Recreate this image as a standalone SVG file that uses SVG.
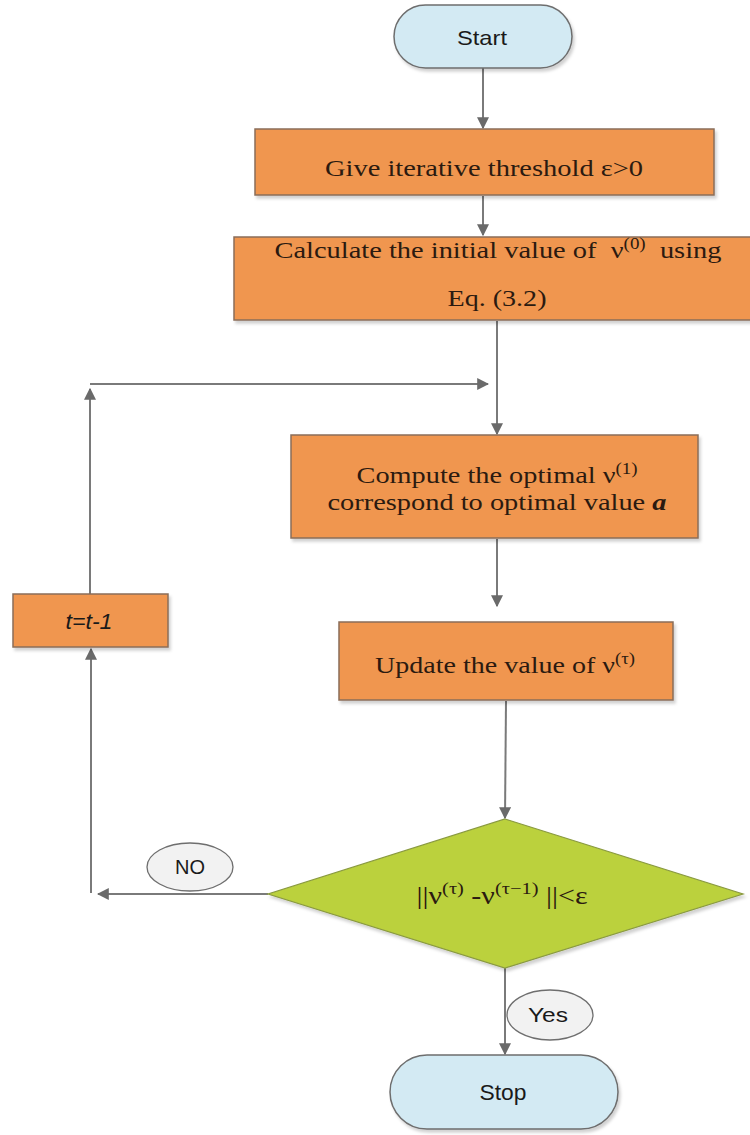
<svg xmlns="http://www.w3.org/2000/svg" width="750" height="1135" viewBox="0 0 750 1135">
  <style>
    .proc { fill: #F0964F; stroke: #8A6E5A; stroke-width: 1.5; }
    .term { fill: #D3EAF3; stroke: #6E6E6E; stroke-width: 1.5; }
    .dec { fill: #BBD13E; stroke: #8A9A40; stroke-width: 1.2; }
    .lbl { fill: #F2F2F2; stroke: #6E6E6E; stroke-width: 1.3; }
    .conn { fill: none; stroke: #7A7A7A; stroke-width: 2; marker-end: url(#arrow); }
    .serif { font-family: "Liberation Serif", "Times New Roman", serif; fill: #2B1A10; }
    .sans { font-family: "Liberation Sans", Arial, sans-serif; fill: #1A1A1A; }
  </style>
  <defs>
    <marker id="arrow" viewBox="0 0 10 10" refX="9" refY="5" markerWidth="6" markerHeight="6" markerUnits="strokeWidth" orient="auto">
      <path d="M0,0 L10,5 L0,10 z" fill="#6A6A6A"/>
    </marker>
    <filter id="shadow" x="-5%" y="-10%" width="115%" height="130%">
      <feDropShadow dx="2" dy="3" stdDeviation="1.5" flood-color="#000" flood-opacity="0.18"/>
    </filter>
    <linearGradient id="lblFill" x1="0" y1="0" x2="0" y2="1">
      <stop offset="0" stop-color="#FFFFFF"/>
      <stop offset="1" stop-color="#E6E6E6"/>
    </linearGradient>
  </defs>

  <rect width="750" height="1135" fill="#FFFFFF"/>

  <!-- connectors -->
  <g id="connectors">
    <line class="conn" x1="483" y1="68" x2="483" y2="128"/>
    <line class="conn" x1="483" y1="196" x2="483" y2="235"/>
    <line class="conn" x1="497" y1="321" x2="497" y2="434"/>
    <line class="conn" x1="90" y1="384" x2="488" y2="384"/>
    <line class="conn" x1="497" y1="539" x2="497" y2="606"/>
    <line class="conn" x1="506" y1="701" x2="505" y2="818"/>
    <line class="conn" x1="268" y1="894" x2="98" y2="894"/>
    <line class="conn" x1="91" y1="893" x2="91" y2="649"/>
    <line class="conn" x1="90" y1="594" x2="90" y2="389"/>
    <line class="conn" x1="505" y1="968" x2="505" y2="1054"/>
  </g>

  <!-- start terminal -->
  <g id="start">
    <rect class="term" x="394" y="5" width="178" height="63" rx="31.5" ry="31.5" filter="url(#shadow)"/>
    <text class="sans" x="482" y="45" font-size="21" text-anchor="middle" textLength="50" lengthAdjust="spacingAndGlyphs">Start</text>
  </g>

  <!-- threshold step -->
  <g id="threshold">
    <rect class="proc" x="255" y="129" width="459" height="66" filter="url(#shadow)"/>
    <text class="serif" x="484" y="176" font-size="23" text-anchor="middle" textLength="318" lengthAdjust="spacingAndGlyphs">Give iterative threshold ε&gt;0</text>
  </g>

  <!-- initial value step -->
  <g id="initial">
    <rect class="proc" x="234" y="237" width="520" height="83" filter="url(#shadow)"/>
    <text class="serif" x="498" y="258" font-size="24" text-anchor="middle" xml:space="preserve" textLength="447" lengthAdjust="spacingAndGlyphs">Calculate the initial value of  ν<tspan font-size="16" dy="-9">(0)</tspan><tspan dy="9">  using</tspan></text>
    <text class="serif" x="497" y="306" font-size="24" text-anchor="middle" textLength="99" lengthAdjust="spacingAndGlyphs">Eq. (3.2)</text>
  </g>

  <!-- compute optimal step -->
  <g id="compute">
    <rect class="proc" x="291" y="435" width="407" height="103" filter="url(#shadow)"/>
    <text class="serif" x="497" y="483" font-size="24" text-anchor="middle" textLength="281" lengthAdjust="spacingAndGlyphs">Compute the optimal ν<tspan font-size="16" dy="-9">(1)</tspan></text>
    <text class="serif" x="497" y="510" font-size="24" text-anchor="middle" textLength="339" lengthAdjust="spacingAndGlyphs">correspond to optimal value <tspan font-weight="bold" font-style="italic">a</tspan></text>
  </g>

  <!-- update step -->
  <g id="update">
    <rect class="proc" x="339" y="622" width="334" height="78" filter="url(#shadow)"/>
    <text class="serif" x="505" y="673" font-size="24" text-anchor="middle" textLength="260" lengthAdjust="spacingAndGlyphs">Update the value of ν<tspan font-size="16" dy="-9">(τ)</tspan></text>
  </g>

  <!-- convergence test -->
  <g id="check">
    <polygon class="dec" points="505,819 743,894 505,968 268,894" filter="url(#shadow)"/>
    <text class="serif" x="502" y="904" font-size="25" text-anchor="middle" fill="#111" textLength="171" lengthAdjust="spacingAndGlyphs">||ν<tspan font-size="17" dy="-10">(τ)</tspan><tspan dy="10"> -ν</tspan><tspan font-size="17" dy="-10">(τ−1)</tspan><tspan dy="10"> ||&lt;ε</tspan></text>
  </g>

  <!-- counter step -->
  <g id="counter">
    <rect class="proc" x="13" y="594" width="155" height="53" filter="url(#shadow)"/>
    <text class="sans" x="89" y="629" font-size="22" font-style="italic" text-anchor="middle" fill="#3A2414" textLength="47" lengthAdjust="spacingAndGlyphs">t=t-1</text>
  </g>

  <!-- branch labels -->
  <g id="label-no">
    <ellipse class="lbl" cx="190" cy="867" rx="43" ry="24" fill="url(#lblFill)"/>
    <text class="sans" x="190" y="874" font-size="20" text-anchor="middle">NO</text>
  </g>
  <g id="label-yes">
    <ellipse class="lbl" cx="550" cy="1015" rx="43" ry="25" fill="url(#lblFill)"/>
    <text class="sans" x="548" y="1022" font-size="21" text-anchor="middle" textLength="40" lengthAdjust="spacingAndGlyphs">Yes</text>
  </g>

  <!-- stop terminal -->
  <g id="stop">
    <rect class="term" x="390" y="1055" width="228" height="74" rx="37" ry="37" filter="url(#shadow)"/>
    <text class="sans" x="503" y="1100" font-size="22" text-anchor="middle" textLength="47" lengthAdjust="spacingAndGlyphs">Stop</text>
  </g>
</svg>
